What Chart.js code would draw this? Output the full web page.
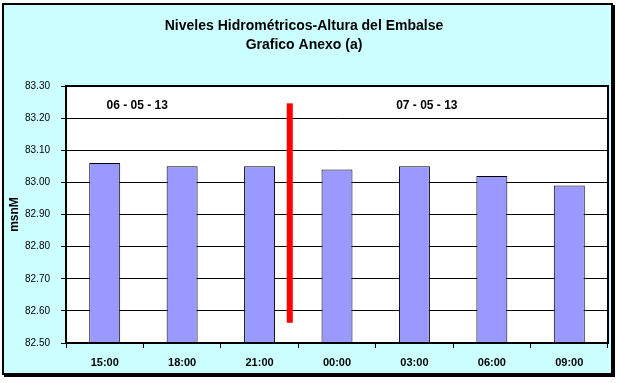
<!DOCTYPE html>
<html>
<head>
<meta charset="utf-8">
<script src="https://cdn.jsdelivr.net/npm/chart.js@4.4.1/dist/chart.umd.min.js"></script>
<style>
  html, body { margin: 0; padding: 0; background: #ffffff; }
  #wrap { position: relative; width: 619px; height: 383px; overflow: hidden; }
  #frame { position: absolute; left: 2px; top: 3px; width: 607px; height: 368px;
           background: #CCFFFF; border: 2px solid #000; box-shadow: 2px 2px 0 #000; }
  #c { position: absolute; left: 0; top: 0; }
</style>
</head>
<body>
<div id="wrap">
  <div id="frame"></div>
  <canvas id="c" width="619" height="383"></canvas>
</div>
<script>
// ---- data ----
const categories = ['15:00', '18:00', '21:00', '00:00', '03:00', '06:00', '09:00'];
const levels = [83.06, 83.05, 83.05, 83.04, 83.05, 83.02, 82.99];
const yMin = 82.50;
const yMax = 83.30;
const yStep = 0.10;
const titleLines = ['Niveles Hidrométricos-Altura del Embalse', 'Grafico Anexo (a)'];
const yTitle = 'msnM';
const dayLabels = ['06 - 05 - 13', '07 - 05 - 13'];
const dayLabelIndex = [0.42, 4.16];
const dayLabelLevel = 83.238;
const dividerIndex = 2.39;
const dividerRange = [82.563, 83.246];

const FONT = "'Liberation Sans', Arial, sans-serif";

const decorPlugin = {
  id: 'decor',
  beforeDraw(chart) {
    const { ctx, chartArea: a } = chart;
    ctx.save();
    ctx.fillStyle = '#ffffff';
    ctx.fillRect(a.left, a.top, a.right - a.left, a.bottom - a.top);
    ctx.restore();
  },
  afterDatasetsDraw(chart) {
    const { ctx, chartArea: a, scales } = chart;
    const xs = scales.x, ys = scales.y;
    ctx.save();
    // divider
    const dx = xs.getPixelForValue(dividerIndex);
    const dTop = ys.getPixelForValue(dividerRange[1]);
    const dBot = ys.getPixelForValue(dividerRange[0]);
    ctx.fillStyle = '#FF0000';
    ctx.fillRect(dx - 3, dTop, 6, dBot - dTop);
    // day labels
    ctx.fillStyle = '#000';
    ctx.font = "bold 12px " + FONT;
    ctx.textAlign = 'center';
    ctx.textBaseline = 'middle';
    dayLabels.forEach((t, i) => {
      ctx.fillText(t, xs.getPixelForValue(dayLabelIndex[i]), ys.getPixelForValue(dayLabelLevel));
    });
    // plot border
    ctx.strokeStyle = '#000';
    ctx.lineWidth = 2;
    ctx.strokeRect(a.left, a.top, a.right - a.left, a.bottom - a.top);
    ctx.restore();
  }
};

new Chart(document.getElementById('c'), {
  type: 'bar',
  data: {
    labels: categories,
    datasets: [{
      data: levels,
      backgroundColor: '#9999FF',
      borderColor: '#000000',
      borderWidth: 1,
      categoryPercentage: 1.0,
      barPercentage: 0.4
    }]
  },
  plugins: [decorPlugin],
  options: {
    responsive: false,
    animation: false,
    layout: { padding: { left: 0, right: 11, top: 0, bottom: 0 } },
    plugins: {
      legend: { display: false },
      tooltip: { enabled: false },
      title: {
        display: true,
        text: titleLines,
        color: '#000',
        font: { family: FONT, size: 14, weight: 'bold', lineHeight: 19 / 14 },
        padding: { top: 16.5, bottom: 31.5 }
      }
    },
    scales: {
      x: {
        grid: { drawOnChartArea: false, drawTicks: true, tickLength: 5, color: '#000', lineWidth: 1 },
        border: { display: true, color: '#000', width: 2 },
        ticks: { color: '#000', font: { family: FONT, size: 11, weight: 'bold' }, padding: 8, maxRotation: 0, autoSkip: false },
        afterFit(scale) { scale.height = 40; }
      },
      y: {
        min: yMin,
        max: yMax,
        grid: { color: '#000', lineWidth: 1, drawTicks: true, tickLength: 5 },
        border: { display: true, color: '#000', width: 2 },
        ticks: {
          stepSize: yStep,
          color: '#000',
          font: { family: FONT, size: 10 },
          padding: 11,
          callback: v => Number(v).toFixed(2)
        },
        title: {
          display: true,
          text: yTitle,
          color: '#000',
          font: { family: FONT, size: 12, weight: 'bold' },
          padding: { top: 7, bottom: 0 }
        },
        afterFit(scale) { scale.width = 66; }
      }
    }
  }
});
</script>
</body>
</html>
